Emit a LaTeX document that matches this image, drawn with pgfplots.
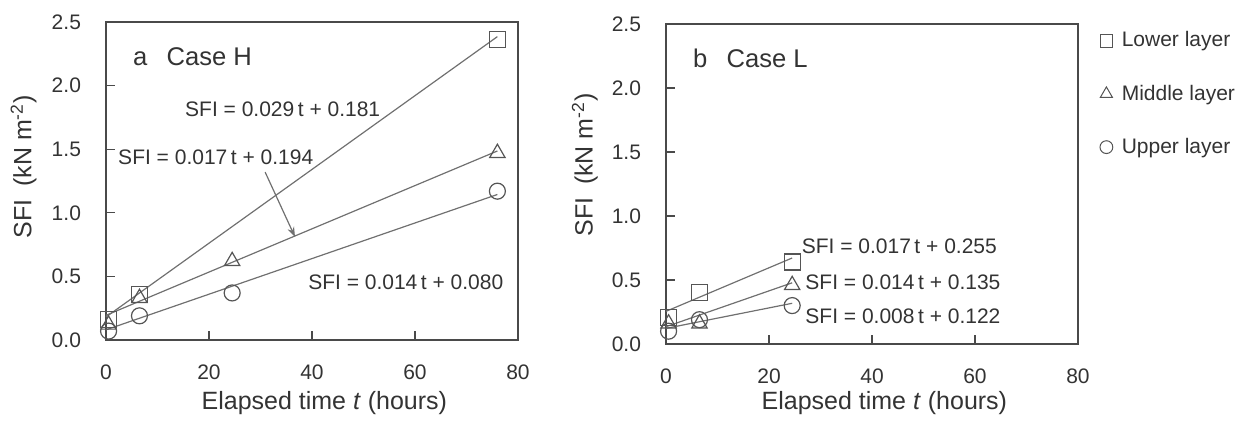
\documentclass[border=0pt]{standalone}
\usepackage{pgfplots}
\pgfplotsset{compat=1.18}
\usepackage{fontspec}
\setmainfont{Liberation Sans}
\usetikzlibrary{arrows.meta}
\definecolor{txt}{HTML}{333333}
\definecolor{frame}{HTML}{4A4A4A}
\definecolor{mk}{HTML}{555555}
\definecolor{ln}{HTML}{707070}
\tikzset{
  eq/.style={font=\fontsize{10.5}{12}\selectfont, text=txt, anchor=west, inner sep=0pt},
  ttl/.style={font=\fontsize{12.8}{14}\selectfont, text=txt, anchor=west, inner sep=0pt},
}
\pgfplotsset{
  panel/.style={
    scale only axis, width=206pt,
    xmin=0, xmax=80, ymin=0, ymax=2.5,
    xtick={0,20,40,60,80}, ytick={0,0.5,1.0,1.5,2.0,2.5},
    tick align=inside, major tick length=4.5pt,
    xtick pos=bottom, ytick pos=left,
    axis line style={frame, line width=0.7pt},
    tick style={frame, line width=0.6pt},
    /pgf/number format/assume math mode=true,
    yticklabel={\pgfmathprintnumber[fixed,fixed zerofill,precision=1]{\tick}},
    ticklabel style={font=\fontsize{10.5}{12}\selectfont, text=txt},
    xticklabel style={yshift=-9pt},
    yticklabel style={xshift=-9pt},
    label style={font=\fontsize{12.5}{14}\selectfont, text=txt},
    clip=false,
  },
  reg/.style={ln, line width=0.6pt, no marks},
  sq/.style={only marks, mark=square, mark size=4pt, mark options={draw=mk, line width=0.6pt, fill=none}},
  tr/.style={only marks, mark=triangle, mark size=4.4pt, mark options={draw=mk, line width=0.6pt, fill=none}},
  ci/.style={only marks, mark=o, mark size=4pt, mark options={draw=mk, line width=0.6pt, fill=none}},
}
\begin{document}
\begin{tikzpicture}
\useasboundingbox (0,0) rectangle (623.5pt,210.5pt);
% ---------------- panel a ----------------
\begin{axis}[panel, at={(53pt,40.5pt)}, anchor=south west, height=159pt,
  xlabel={Elapsed time \textit{t} (hours)},
  ylabel={SFI\hspace{0.5em}(kN m\textsuperscript{-2})},
  xlabel style={at={(axis description cs:0.53,-0.198)}, anchor=center},
  ylabel style={at={(axis description cs:-0.20,0.545)}, anchor=center},
]
\addplot[reg] coordinates {(0,0.181) (76,2.385)};
\addplot[reg] coordinates {(0,0.194) (76,1.486)};
\addplot[reg] coordinates {(0,0.080) (76,1.144)};
\addplot[sq] coordinates {(0.5,0.16) (6.5,0.36) (76,2.36)};
\addplot[tr] coordinates {(0.5,0.12) (6.5,0.33) (24.5,0.62) (76,1.47)};
\addplot[ci] coordinates {(0.5,0.07) (6.5,0.19) (24.5,0.37) (76,1.17)};
\node[ttl] at (axis cs:5.2,2.23) {a\hspace{0.75em}Case H};
\node[eq] at (axis cs:15.3,1.81) {SFI = 0.029\,t + 0.181};
\node[eq] at (axis cs:2.3,1.44) {SFI = 0.017\,t + 0.194};
\node[eq] at (axis cs:39.2,0.456) {SFI = 0.014\,t + 0.080};
\draw[ln, line width=0.6pt, -{Stealth[length=5pt,width=3.5pt]}] (axis cs:30.9,1.32) -- (axis cs:36.7,0.81);
\end{axis}
% ---------------- panel b ----------------
\begin{axis}[panel, at={(333pt,38.5pt)}, anchor=south west, height=160pt,
  xlabel={Elapsed time \textit{t} (hours)},
  ylabel={SFI\hspace{0.5em}(kN m\textsuperscript{-2})},
  xlabel style={at={(axis description cs:0.53,-0.186)}, anchor=center},
  ylabel style={at={(axis description cs:-0.197,0.56)}, anchor=center},
  legend style={at={(rel axis cs:1.05,0.99)}, anchor=north west, draw=none, fill=none,
    font=\fontsize{10.5}{12}\selectfont, text=txt, row sep=13.5pt, inner sep=0pt},
  legend cell align=left,
  legend image code/.code={\path (-3.5pt,0pt) (5.5pt,0pt); \draw[#1] plot coordinates {(0pt,0pt)};},
]
\addlegendimage{only marks, mark=square, mark size=3.2pt, mark options={draw=mk, line width=0.5pt}}
\addlegendentry{Lower layer}
\addlegendimage{only marks, mark=triangle, mark size=3.5pt, mark options={draw=mk, line width=0.5pt}}
\addlegendentry{Middle layer}
\addlegendimage{only marks, mark=o, mark size=3.2pt, mark options={draw=mk, line width=0.5pt}}
\addlegendentry{Upper layer}
\addplot[reg, forget plot] coordinates {(0,0.255) (24.5,0.672)};
\addplot[reg, forget plot] coordinates {(0,0.135) (24.5,0.478)};
\addplot[reg, forget plot] coordinates {(0,0.122) (24.5,0.318)};
\addplot[sq, forget plot] coordinates {(0.5,0.21) (6.5,0.40) (24.5,0.64)};
\addplot[tr, forget plot] coordinates {(0.5,0.16) (6.5,0.16) (24.5,0.46)};
\addplot[ci, forget plot] coordinates {(0.5,0.10) (6.5,0.19) (24.5,0.30)};
\node[ttl] at (axis cs:5.2,2.23) {b\hspace{0.75em}Case L};
\node[eq] at (axis cs:26.3,0.76) {SFI = 0.017\,t + 0.255};
\node[eq] at (axis cs:27,0.48) {SFI = 0.014\,t + 0.135};
\node[eq] at (axis cs:27,0.22) {SFI = 0.008\,t + 0.122};
\end{axis}
\end{tikzpicture}
\end{document}
